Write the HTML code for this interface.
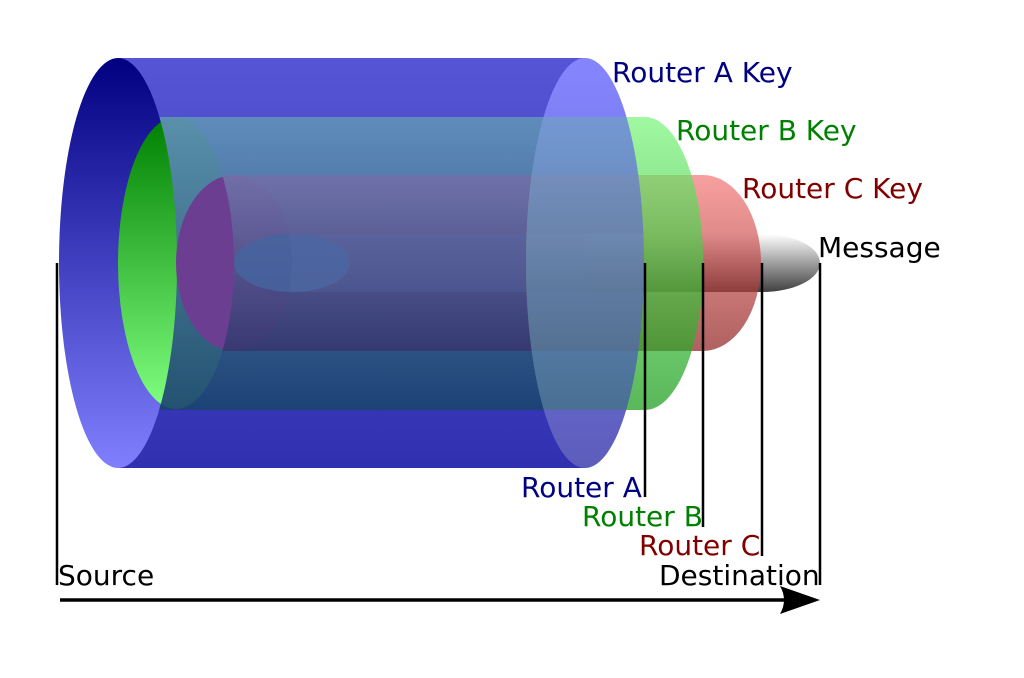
<!DOCTYPE html>
<html><head><meta charset="utf-8"><style>
html,body{margin:0;padding:0;background:#fff}
svg text{font-family:"DejaVu Sans","Liberation Sans",sans-serif;font-size:28px}
</style></head><body>
<svg width="1024" height="673" viewBox="0 0 1024 673" xmlns="http://www.w3.org/2000/svg">
<defs>
<linearGradient id="aL" x1="0" y1="0" x2="0" y2="1"><stop offset="0" stop-color="#000080"/><stop offset="1" stop-color="#8080ff"/></linearGradient>
<linearGradient id="aB" x1="0" y1="0" x2="0" y2="1"><stop offset="0" stop-color="#5555d5"/><stop offset="1" stop-color="#3030b0"/></linearGradient>
<linearGradient id="aR" x1="0" y1="0" x2="0" y2="1"><stop offset="0" stop-color="#6e6eff"/><stop offset="1" stop-color="#5a5abe"/></linearGradient>
<linearGradient id="aRo" x1="0" y1="0" x2="0" y2="1"><stop offset="0" stop-color="#a8a8ff"/><stop offset="1" stop-color="#6060b8"/></linearGradient>
<linearGradient id="bL" x1="0" y1="0" x2="0" y2="1"><stop offset="0" stop-color="#008000"/><stop offset="1" stop-color="#80ff80"/></linearGradient>
<linearGradient id="bIn" x1="0" y1="0" x2="0" y2="1"><stop offset="0" stop-color="#6292ba"/><stop offset="1" stop-color="#1c4470"/></linearGradient>
<linearGradient id="bR" x1="0" y1="0" x2="0" y2="1"><stop offset="0" stop-color="#77f577"/><stop offset="1" stop-color="#139a13"/></linearGradient>
<linearGradient id="cIn" x1="0" y1="0" x2="0" y2="1"><stop offset="0" stop-color="#7272aa"/><stop offset="1" stop-color="#353870"/></linearGradient>
<linearGradient id="cR" x1="0" y1="0" x2="0" y2="1"><stop offset="0" stop-color="#f57777"/><stop offset="1" stop-color="#8e1c1c"/></linearGradient>
<linearGradient id="mB" x1="0" y1="0" x2="0" y2="1"><stop offset="0" stop-color="#ffffff"/><stop offset="1" stop-color="#404040"/></linearGradient>
<mask id="mA"><rect width="1024" height="673" fill="#fff"/><ellipse cx="118" cy="263" rx="59" ry="205" fill="#000"/><ellipse cx="585" cy="263" rx="59" ry="205" fill="#000"/></mask>
<mask id="mBk"><rect width="1024" height="673" fill="#fff"/><ellipse cx="176" cy="263" rx="58" ry="146" fill="#000"/><ellipse cx="585" cy="263" rx="59" ry="205" fill="#000"/></mask>
<mask id="mC"><rect width="1024" height="673" fill="#fff"/><ellipse cx="234" cy="263" rx="58" ry="88" fill="#000"/><ellipse cx="585" cy="263" rx="59" ry="205" fill="#000"/></mask>
<clipPath id="cpR"><rect x="585" y="0" width="439" height="673"/><ellipse cx="585" cy="263" rx="59" ry="205"/></clipPath>
</defs>
<rect x="118" y="58" width="467" height="410" fill="url(#aB)"/>
<ellipse cx="118" cy="263" rx="59" ry="205" fill="url(#aL)"/>
<ellipse cx="585" cy="263" rx="59" ry="205" fill="url(#aRo)"/>
<ellipse cx="176" cy="263" rx="58" ry="146" fill="url(#bL)"/>
<rect x="118" y="117" width="467" height="293" fill="url(#bIn)" mask="url(#mA)" opacity="0.92"/>
<ellipse cx="234" cy="263" rx="58" ry="88" fill="#6c3e92"/>
<rect x="176" y="175" width="409" height="176" fill="url(#cIn)" mask="url(#mBk)" opacity="0.92"/>
<ellipse cx="292" cy="263" rx="58" ry="29" fill="#4565a0" opacity="0.8"/>
<rect x="234" y="234" width="351" height="58" fill="#5a6aa8" opacity="0.3" mask="url(#mC)"/>
<g clip-path="url(#cpR)">
<rect x="527" y="234" width="58" height="58" fill="url(#mB)" opacity="0.6"/>
<rect x="585" y="234" width="177" height="58" fill="url(#mB)"/>
<ellipse cx="762" cy="263" rx="58" ry="29" fill="url(#mB)"/>
<path d="M520 175 H703 A58 88 0 0 1 703 351 H520 Z" fill="url(#cR)" opacity="0.7"/>
<path d="M520 117 H645 A58 146 0 0 1 645 410 H520 Z" fill="url(#bR)" opacity="0.7"/>
</g>
<ellipse cx="585" cy="263" rx="59" ry="205" fill="url(#aR)" opacity="0.6"/>
<g stroke="#000" stroke-width="2.5" fill="none">
<line x1="57" y1="263" x2="57" y2="585"/>
<line x1="645" y1="263" x2="645" y2="497"/>
<line x1="703" y1="263" x2="703" y2="527"/>
<line x1="762" y1="263" x2="762" y2="556"/>
<line x1="820" y1="263" x2="820" y2="585"/>
<line x1="60" y1="600" x2="790" y2="600" stroke-width="3.5"/>
</g>
<path d="M820 600 L780 586 Q788 600 780 614 Z" fill="#000"/>
<text x="612" y="82" fill="#000080">Router A Key</text>
<text x="676" y="140" fill="#008000">Router B Key</text>
<text x="742" y="198" fill="#800000">Router C Key</text>
<text x="818" y="257" fill="#000">Message</text>
<text x="521" y="497" fill="#000080">Router A</text>
<text x="582" y="526" fill="#008000">Router B</text>
<text x="639" y="555" fill="#800000">Router C</text>
<text x="58" y="585" fill="#000">Source</text>
<text x="659" y="585" fill="#000">Destination</text>
</svg>
</body></html>
